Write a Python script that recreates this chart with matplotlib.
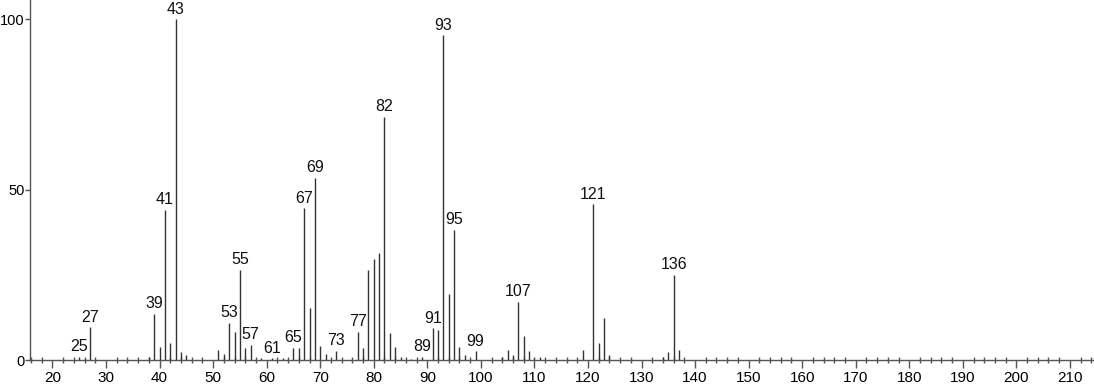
import matplotlib.pyplot as plt
from matplotlib.ticker import MultipleLocator

# m/z values and relative intensities
mz = [25, 26, 27, 38, 39, 40, 41, 42, 43, 44, 45,
      51, 52, 53, 54, 55, 56, 57, 59, 61, 63, 65, 66, 67, 68, 69, 70, 71, 73,
      77, 78, 79, 80, 81, 82, 83, 84, 85, 87, 89, 91, 92, 93, 94, 95, 96, 97, 99,
      104, 105, 106, 107, 108, 109, 110, 111, 119, 121, 122, 123, 124,
      134, 135, 136, 137]
intensity = [0.8, 0.4, 9.6, 0.9, 13.5, 3.7, 44.0, 4.9, 100.0, 2.4, 1.5,
             2.9, 1.8, 10.8, 8.1, 26.4, 3.4, 4.4, 0.6, 0.5, 0.6, 3.6, 3.6, 44.5, 15.2, 53.4, 4.1, 1.8, 2.6,
             8.2, 3.4, 26.4, 29.7, 31.4, 71.3, 7.9, 3.7, 1.0, 0.4, 0.8, 9.3, 8.8, 95.3, 19.4, 38.1, 3.7, 1.5, 2.5,
             0.9, 2.9, 1.5, 17.0, 7.0, 2.6, 0.8, 0.8, 2.9, 45.7, 4.9, 12.2, 1.5,
             0.8, 2.4, 24.9, 2.9]
labeled = [25, 27, 39, 41, 43, 53, 55, 57, 61, 65, 67, 69, 73, 77, 82,
           89, 91, 93, 95, 99, 107, 121, 136]

plt.rcParams['font.family'] = ['Liberation Sans', 'DejaVu Sans']

fig = plt.figure(figsize=(10.94, 3.84), dpi=100)
ax = fig.add_axes([0.0274, 0.0625, 0.9726, 0.9375])

ax.vlines(mz, 0, intensity, color='#333333', linewidth=1.0)

heights = dict(zip(mz, intensity))
for m in labeled:
    ax.annotate(str(m), (m, heights[m]), xytext=(0, 2), textcoords='offset points',
                ha='center', va='bottom', fontsize=11.5, color='#111111')

ax.set_xlim(15.8, 214.5)
ax.set_ylim(0, 105.7)
ax.set_xticks(range(20, 211, 10))
ax.xaxis.set_minor_locator(MultipleLocator(2))
ax.set_yticks([0, 50, 100])

for side in ['top', 'right']:
    ax.spines[side].set_visible(False)
for side in ['left', 'bottom']:
    ax.spines[side].set_color('#555555')
    ax.spines[side].set_linewidth(1.0)

ax.tick_params(axis='x', which='major', direction='out', length=6, width=1,
               color='#555555', labelsize=11, pad=2)
ax.tick_params(axis='x', which='minor', direction='inout', length=5, width=1,
               color='#555555')
ax.tick_params(axis='y', direction='out', length=3.5, width=1, color='#555555',
               labelsize=10.5, pad=0.5)

fig.savefig('out.png', dpi=100)
